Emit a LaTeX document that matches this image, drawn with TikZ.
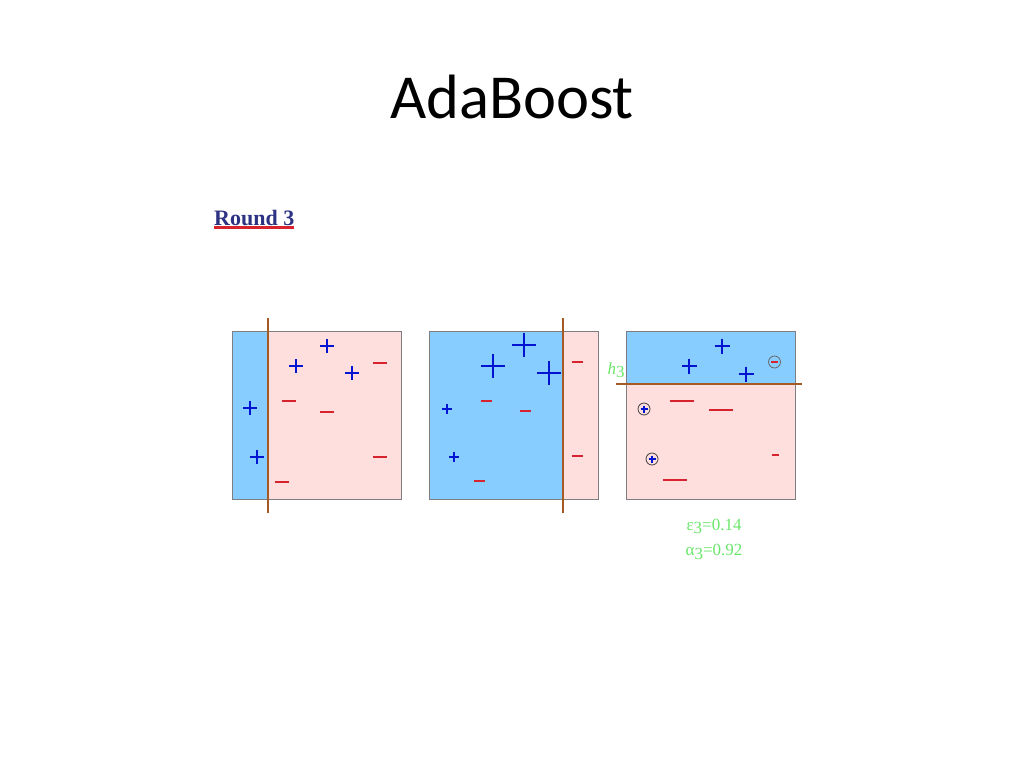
\documentclass[tikz,border=0pt]{standalone}
\usepackage{amsmath}
\usepackage{amssymb}
\usepackage{fontspec}
\setmainfont{Carlito}
\newfontfamily\roundfont{Liberation Serif}
\definecolor{regionblue}{RGB}{135,205,255}
\definecolor{regionpink}{RGB}{255,222,222}
\definecolor{framegray}{RGB}{125,125,130}
\definecolor{cutbrown}{RGB}{165,90,35}
\definecolor{plusblue}{RGB}{0,20,210}
\definecolor{minusred}{RGB}{215,35,45}
\definecolor{notegreen}{RGB}{105,230,105}
\definecolor{roundnavy}{RGB}{45,50,130}
\tikzset{
	plusmark/.style={draw=plusblue,line width=1.7pt},
	minusmark/.style={draw=minusred,line width=1.7pt},
	frame/.style={draw=framegray,line width=1.1pt},
	cutline/.style={draw=cutbrown,line width=2pt},
	notetext/.style={text=notegreen,font=\fontsize{17}{17}\selectfont\roundfont,inner sep=0pt},
}
\newcommand{\plusat}[3]{\draw[plusmark](#1-#3,#2)--(#1+#3,#2)(#1,#2-#3)--(#1,#2+#3);}
\newcommand{\minusat}[3]{\draw[minusmark](#1-#3,#2)--(#1+#3,#2);}
\newcommand{\lowthree}{\raisebox{-3.5pt}{3}}
\begin{document}
\begin{tikzpicture}[x=1pt,y=-1pt]
	\useasboundingbox(0,0)rectangle(1024,768);
	\node(title)at(512,97){\fontsize{62.6}{62.6}\selectfont AdaBoost};
	\node[anchor=west,inner sep=0pt,text=roundnavy,font=\fontsize{22}{22}\selectfont\roundfont\bfseries](round)at(214,218){Round 3};
	\draw[minusred,line width=3pt](214,227)--(294,227);
	% left panel
	\fill[regionpink](268,331)rectangle(401.5,499.5);
	\fill[regionblue](232.5,331)rectangle(268,499.5);
	\draw[frame](232.5,331.5)rectangle(401.5,499.5);
	\draw[cutline](268,318)--(268,513);
	\foreach \x/\y in {327/346,296/366,352/373,250/408,257/457}{\plusat{\x}{\y}{7}}
	\foreach \x/\y in {380/363,289/401,327/412,380/457,282/482}{\minusat{\x}{\y}{7}}
	% middle panel
	\fill[regionblue](429.5,331)rectangle(563,499.5);
	\fill[regionpink](563,331)rectangle(598.5,499.5);
	\draw[frame](429.5,331.5)rectangle(598.5,499.5);
	\draw[cutline](563,318)--(563,513);
	\foreach \x/\y in {524/345,493/366,549/373}{\plusat{\x}{\y}{12}}
	\foreach \x/\y in {447/409,454/457}{\plusat{\x}{\y}{5}}
	\foreach \x/\y in {577/362,486/401,525/411,577/456,479/481}{\minusat{\x}{\y}{5.5}}
	% right panel
	\fill[regionblue](626.5,331)rectangle(795.5,384);
	\fill[regionpink](626.5,384)rectangle(795.5,499.5);
	\draw[frame](626.5,331.5)rectangle(795.5,499.5);
	\draw[cutline](616,384)--(802,384);
	\foreach \x/\y in {722/346,689/366,746/374}{\plusat{\x}{\y}{7.5}}
	\foreach \x/\y in {682/401,721/410,675/480}{\minusat{\x}{\y}{12}}
	\minusat{775}{455}{3.5}
	\foreach \x/\y in {644/409,652/459}{
		\draw[black!75,line width=0.8pt](\x,\y)circle(6);
		\plusat{\x}{\y}{3.5}
	}
	\draw[black!60,line width=0.8pt](774.5,362)circle(6);
	\minusat{774.5}{362}{3.5}
	\node[notetext,anchor=center](hlabel)at(616,370){\textit{h}\lowthree};
	\node[notetext,anchor=center](errorlabel)at(714,526.5){ε\lowthree =0.14};
	\node[notetext,anchor=center](alphalabel)at(714,552){α\lowthree =0.92};
\end{tikzpicture}
\end{document}
